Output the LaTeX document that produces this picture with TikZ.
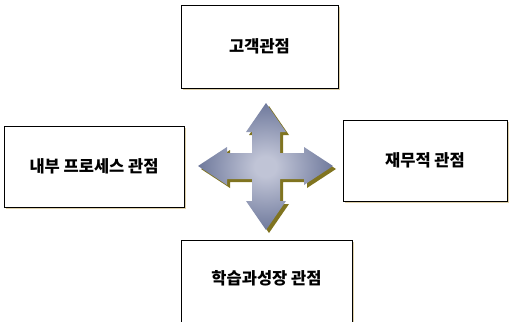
\documentclass[tikz,border=0pt]{standalone}
\usepackage{fontspec}
\newfontfamily\kr{Noto Sans CJK KR}
\definecolor{boxshadow}{RGB}{222,208,170}
\definecolor{arrowshadow}{RGB}{128,116,32}
\definecolor{arrowin}{RGB}{192,196,214}
\definecolor{arrowout}{RGB}{38,54,104}
\pgfdeclareradialshading{arrowshade}{\pgfpoint{0bp}{0bp}}{%
  color(0bp)=(arrowin); color(4bp)=(arrowin); color(44bp)=(arrowout); color(100bp)=(arrowout)}
\begin{document}
\begin{tikzpicture}[x=1pt,y=-1pt,
  ptext/.style={font=\kr\bfseries\fontsize{16.5}{18}\selectfont},
  persp/.style={draw=black,line width=0.8pt,fill=white,inner sep=0pt,ptext}]
\useasboundingbox (0,0) rectangle (510,321);
\clip (0,0) rectangle (510,321);
% box shadows
\fill[boxshadow] (183,7) rectangle (340,90);
\fill[boxshadow] (6,128) rectangle (186,209);
\fill[boxshadow] (345,122) rectangle (509,203);
\fill[boxshadow] (183,242) rectangle (354,330);
% boxes
\node[persp,minimum width=157pt,minimum height=83pt] (cust) at (259.5,46.5) {고객관점};
\node[persp,minimum width=180pt,minimum height=81pt] (proc) at (94,166.5) {내부 프로세스 관점};
\node[persp,minimum width=164pt,minimum height=81pt] (fin) at (425,160.5) {재무적 관점};
\node[persp,minimum width=171pt,minimum height=90pt] (learnbox) at (266.5,285) {};
\node[ptext,inner sep=0pt] (learn) at (266.5,278) {학습과성장 관점};
% four-way arrow
\def\arrowpath{(266,103) -- (286,132) -- (280,132) -- (280,153) -- (304,153) -- (304,147) -- (333,166) -- (304,185) -- (304,179) -- (280,179) -- (280,201) -- (286,201) -- (266,230) -- (246,201) -- (252,201) -- (252,179) -- (227,179) -- (227,185) -- (198,166) -- (227,147) -- (227,153) -- (252,153) -- (252,132) -- (246,132) -- cycle}
\begin{scope}[shift={(3,3)}]
\fill[arrowshadow] \arrowpath;
\end{scope}
\shade[shading=arrowshade] \arrowpath;
\end{tikzpicture}
\end{document}
